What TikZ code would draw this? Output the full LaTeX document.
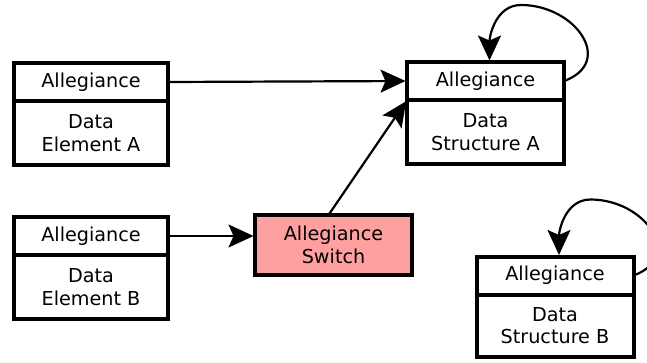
\documentclass[tikz,border=0pt]{standalone}
\usepackage{fontspec}
\setmainfont{DejaVu Sans}
\usetikzlibrary{arrows.meta,calc}
\begin{document}
\begin{tikzpicture}[x=1pt,y=-1pt,
  field/.style={draw, line width=4pt, fill=white, minimum width=154pt,
    inner sep=0pt, outer sep=0pt, align=center,
    font=\fontsize{19.2}{22.5}\selectfont},
  wide/.style={minimum width=157pt},
  tag/.style={field, minimum height=38pt},
  body/.style={field, minimum height=64pt, anchor=north},
  switchbox/.style={field, wide, minimum height=60pt, fill=switchpink},
  conn/.style={line width=2.2pt, shorten >=1.5pt,
    -{Stealth[length=25pt,width=23pt,inset=5pt]}},
  selfloop/.style={out=20, in=0, looseness=1.6}
]
\definecolor{switchpink}{RGB}{255,160,160}
\clip (0,0) rectangle (647,362);
\useasboundingbox (0,0) rectangle (647,362);

% Data element A
\node[tag] (eAtop) at (91,82) {Allegiance};
\node[body] (eAbot) at (eAtop.south) {Data\\Element A};

% Data element B
\node[tag] (eBtop) at (91,236) {Allegiance};
\node[body] (eBbot) at (eBtop.south) {Data\\Element B};

% Data structure A
\node[tag, wide] (sAtop) at (485.5,81) {Allegiance};
\node[body, wide] (sAbot) at (sAtop.south) {Data\\Structure A};

% Data structure B
\node[tag, wide] (sBtop) at (555,275.5) {Allegiance};
\node[body, wide, minimum height=62pt] (sBbot) at (sBtop.south) {Data\\Structure B};

% Allegiance switch
\node[switchbox] (sw) at (333.5,245) {Allegiance\\Switch};

% Top points of the self loops
\coordinate (loopAt) at ($(sAtop.east)+(-43,-76)$);
\coordinate (loopBt) at ($(sBtop.east)+(-43,-76)$);

% Connectors
\draw[conn] (eAtop.east) -- (sAtop.west);
\draw[conn] (eBtop.east) -- (eBtop.east -| sw.west);
\draw[conn] ($(sw.north)+(-5,0)$) -- (sAtop.south west);
\draw[conn] (sAtop.east) to[selfloop] (loopAt)
  to[out=180,in=90] ($(sAtop.north)+(4,0)$);
\draw[conn] (sBtop.east) to[selfloop] (loopBt)
  to[out=180,in=90] ($(sBtop.north)+(4,0)$);
\end{tikzpicture}
\end{document}
